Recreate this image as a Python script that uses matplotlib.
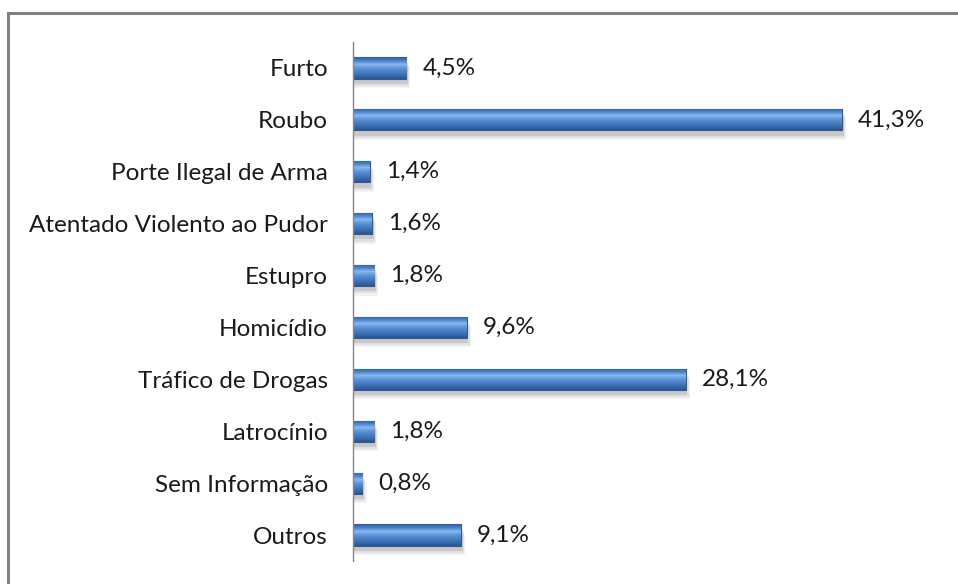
import matplotlib.pyplot as plt
import numpy as np
from matplotlib.patches import Rectangle
from matplotlib.colors import LinearSegmentedColormap

# Data
categories = ['Furto', 'Roubo', 'Porte Ilegal de Arma', 'Atentado Violento ao Pudor',
              'Estupro', 'Homicídio', 'Tráfico de Drogas', 'Latrocínio',
              'Sem Informação', 'Outros']
values = [4.5, 41.3, 1.4, 1.6, 1.8, 9.6, 28.1, 1.8, 0.8, 9.1]

plt.rcParams['font.family'] = ['Lato', 'DejaVu Sans']

fig = plt.figure(figsize=(9.58, 5.84), dpi=100)
ax = fig.add_axes([353/958, 23/584, 547/958, 519/584])

y = np.arange(len(categories))
height = 0.41

# soft shadow under the bars
for dx, dy, a in [(0.15, 0.10, 0.10), (0.25, 0.14, 0.07), (0.35, 0.18, 0.05)]:
    ax.barh(y + dy, np.array(values) + dx, height, color='black', alpha=a, lw=0, zorder=1)

bars = ax.barh(y, values, height, color='#4a7fc4', edgecolor='#2d5a92', lw=0.8, zorder=2)

# vertical gradient inside each bar
grad = LinearSegmentedColormap.from_list('bev', ['#2f5e9c', '#4a82cb', '#8ab8ee', '#5e94d8',
                                                 '#4a80c6', '#3a6cae', '#2b5690'])
g = np.linspace(0, 1, 64).reshape(-1, 1)
for b in bars:
    x0, y0 = b.get_x(), b.get_y()
    w, h = b.get_width(), b.get_height()
    im = ax.imshow(g, cmap=grad, aspect='auto', extent=(x0, x0 + w, y0 + h, y0),
                   origin='upper', zorder=3)
    im.set_clip_path(b)

for yi, v in zip(y, values):
    ax.text(v + 1.35, yi, f'{v:.1f}%'.replace('.', ','), va='center', ha='left',
            fontsize=17.5, color='#1a1a1a', zorder=4)

ax.set_xlim(0, 547/11.84)
ax.set_ylim(len(categories) - 0.5, -0.5)
ax.set_yticks(y)
ax.set_yticklabels(categories, fontsize=17.5, color='#1a1a1a')
ax.tick_params(axis='y', length=0, pad=18)
ax.set_xticks([])
for s in ['top', 'right', 'bottom']:
    ax.spines[s].set_visible(False)
ax.spines['left'].set_color('#868686')
ax.spines['left'].set_linewidth(1.0)
ax.spines['left'].set_zorder(5)

# outer frame
fig.add_artist(Rectangle((8/958, -0.1), 1.0, (584 - 13)/584 + 0.1, fill=False,
                         edgecolor='#808080', lw=2.2, transform=fig.transFigure))

fig.savefig('out.png', dpi=100)
